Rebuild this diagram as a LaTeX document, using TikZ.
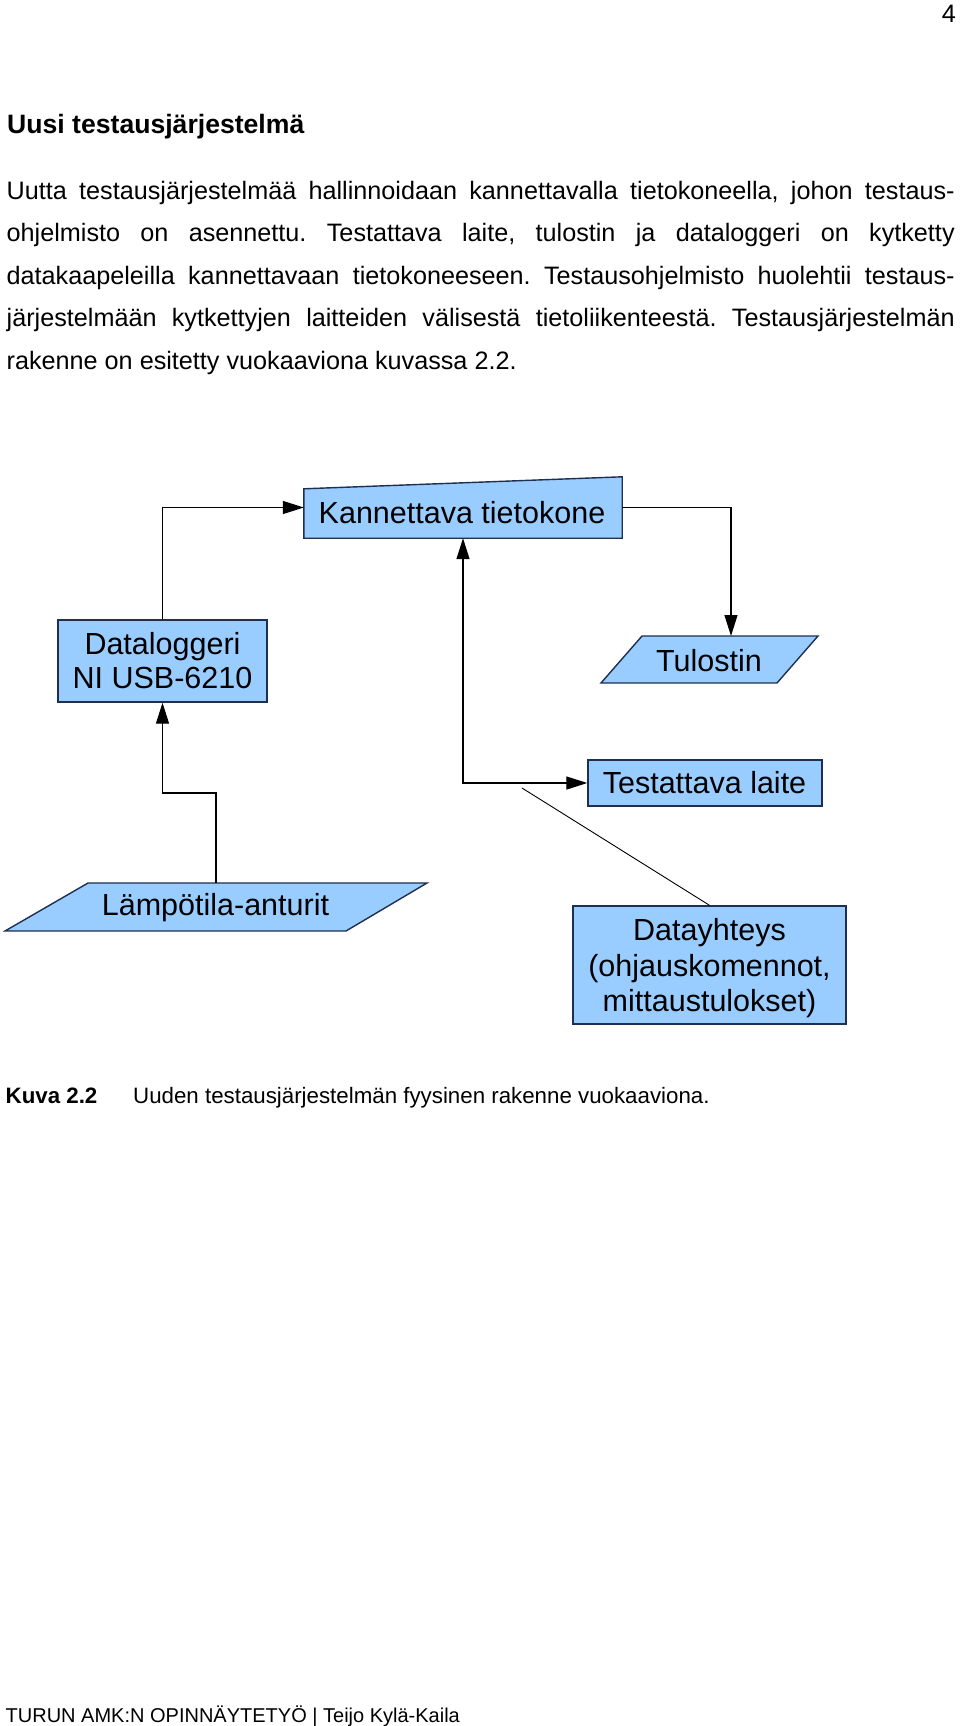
\documentclass[tikz,border=0pt]{standalone}
\usepackage{fontspec}
\setmainfont{Liberation Sans}
\usetikzlibrary{arrows.meta,calc}
\definecolor{boxfill}{HTML}{99CCFF}
\definecolor{boxline}{HTML}{1F2F4F}
\newcommand\bdyf{\fontsize{25.2}{30}\selectfont}
\newcommand\dgf{\fontsize{30.5}{35}\selectfont}
\frenchspacing
\begin{document}
\frenchspacing
\begin{tikzpicture}[x=1pt,y=-1pt,
  txt/.style={inner sep=0pt, anchor=base west},
  lbl/.style={inner sep=0pt, anchor=base, font=\dgf},
  bx/.style={draw=boxline, fill=boxfill, line width=1.4pt},
  conn/.style={draw=black, line width=1.3pt},
  tip/.tip={Triangle[length=21pt,width=13pt]},
  arr/.style={conn, -tip},
  thinline/.style={draw=black, line width=0.9pt},
]
\path[use as bounding box, fill=white] (0,0) rectangle (960,1726);

% page number and text
\node[inner sep=0pt, anchor=base east, font=\bdyf] (pg) at (956,23) {4};
\node[txt, font=\fontsize{26.6}{30}\selectfont\bfseries] (h) at (7,134) {Uusi testausjärjestelmä};
\node[txt, font=\bdyf] (l1) at (6.5,199) {\makebox[948pt][s]{Uutta testausjärjestelmää hallinnoidaan kannettavalla tietokoneella, johon testaus-}};
\node[txt, font=\bdyf] (l2) at (6.5,241.5) {\makebox[948pt][s]{ohjelmisto on asennettu. Testattava laite, tulostin ja dataloggeri on kytketty}};
\node[txt, font=\bdyf] (l3) at (6.5,284) {\makebox[948pt][s]{datakaapeleilla kannettavaan tietokoneeseen. Testausohjelmisto huolehtii testaus-}};
\node[txt, font=\bdyf] (l4) at (6.5,326.5) {\makebox[948pt][s]{järjestelmään kytkettyjen laitteiden välisestä tietoliikenteestä. Testausjärjestelmän}};
\node[txt, font=\bdyf] (l5) at (6.5,369) {rakenne on esitetty vuokaaviona kuvassa 2.2.};

% Kannettava tietokone (manual input shape)
\node[inner sep=0pt, minimum width=318pt, minimum height=61pt] (kt) at (463,507.5) {};
\draw[bx] (kt.south west) -- (kt.south east) -- (kt.north east) -- ($(kt.north west)+(0,12)$) -- cycle;
\node[lbl] (ktt) at (462,523) {Kannettava tietokone};

% Dataloggeri
\node[bx, inner sep=0pt, minimum width=209pt, minimum height=82pt] (dl) at (162.5,661) {};
\node[lbl] (dl1) at (162.5,654) {Dataloggeri};
\node[lbl] (dl2) at (162.5,688) {NI USB-6210};

% Tulostin (parallelogram)
\draw[bx] (642,636) -- (818,636) -- (777,683) -- (601,683) -- cycle;
\coordinate (tutop) at (731,636);
\node[lbl] (tu) at (709,671) {Tulostin};

% Testattava laite
\node[bx, inner sep=0pt, minimum width=234pt, minimum height=46pt] (tl) at (705,783) {};
\node[lbl] (tlt) at (704.5,793) {Testattava laite};

% Lampotila-anturit (parallelogram)
\draw[bx] (88,883) -- (427,883) -- (346,931) -- (5,931) -- cycle;
\coordinate (lmtop) at (216,883);
\coordinate (lmbend) at (216,793);
\node[lbl] (lm) at (215.5,915.5) {Lämpötila-anturit};

% Datayhteys
\node[bx, inner sep=0pt, minimum width=273pt, minimum height=118pt] (dy) at (709.5,965) {};
\node[lbl] (dy1) at (709.5,940) {Datayhteys};
\node[lbl] (dy2) at (709.5,976) {(ohjauskomennot,};
\node[lbl] (dy3) at (709.5,1011) {mittaustulokset)};

% connectors
\draw[arr] (dl.north) |- (kt.west);
\draw[arr] (kt.east) -| (tutop);
\draw[arr] (lmtop) -- (lmbend) -| (dl.south);
\draw[conn, tip-tip] (kt.south) |- (tl.west);
\coordinate (dstart) at (522,788);
\draw[thinline] (dstart) -- (dy.north);

% caption and footer
\node[txt, font=\fontsize{22.3}{26}\selectfont\bfseries] (cap1) at (5.5,1103) {Kuva 2.2};
\node[txt, font=\fontsize{22.3}{26}\selectfont] (cap2) at (133,1103) {Uuden testausjärjestelmän fyysinen rakenne vuokaaviona.};
\node[txt, font=\fontsize{20}{24}\selectfont] (ft) at (5.5,1722) {TURUN AMK:N OPINNÄYTETYÖ | Teijo Kylä-Kaila};
\end{tikzpicture}
\end{document}
